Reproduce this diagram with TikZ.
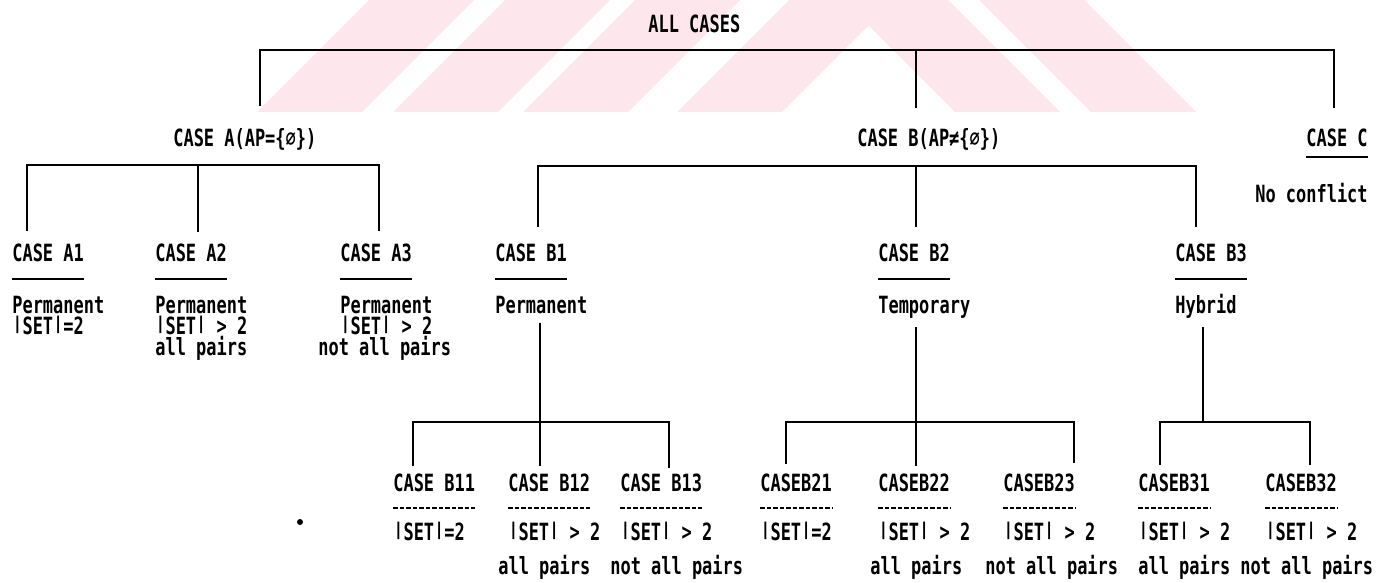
\documentclass[tikz,border=0pt]{standalone}
\usepackage{fontspec}
\newfontfamily\dotmono[FakeStretch=0.715]{DejaVu Sans Mono}
\usepackage{tikz}
\definecolor{wmpink}{RGB}{253,231,236}
% bar as tall as a capital
\newcommand\vbar{\raisebox{0.18em}{\scalebox{1}[0.74]{|}}}

\begin{document}
\begin{tikzpicture}[x=0.02cm, y=-0.02cm,
  every node/.style={inner sep=0pt, anchor=base west, font=\dotmono\bfseries\fontsize{13.5}{12}\selectfont},
  tree/.style={line width=1.6pt},
  rule/.style={line width=1.3pt},
  dashrule/.style={line width=1.3pt, dash pattern=on 2.6pt off 1.1pt}]
\useasboundingbox (0,0) rectangle (1389,582);

% faint watermark
\begin{scope}
\clip (0,0) rectangle (1389,112);
\foreach \b in {257,393,523,677}
  \fill[wmpink] (\b,112) -- (\b+105,112) -- (\b+217,0) -- (\b+112,0) -- cycle;
\foreach \t in {843,979}
  \fill[wmpink] (\t,0) -- (\t+105,0) -- (\t+217,112) -- (\t+112,112) -- cycle;
\end{scope}

% level 0 and 1
\node (all) at (648,32) {ALL CASES};
\node (caseA) at (173,146) {CASE A(AP=\{∅\})};
\node (caseB) at (857,146) {CASE B(AP≠\{∅\})};
\node[anchor=base east] (caseC) at (1368,146) {CASE C};
\node[anchor=base east] (noconf) at (1368,202) {No conflict};

% level 2
\node (a1) at (12,261) {CASE A1};
\node (a2) at (155,261) {CASE A2};
\node (a3) at (340,261) {CASE A3};
\node (b1) at (495,261) {CASE B1};
\node (b2) at (878,261) {CASE B2};
\node (b3) at (1175,261) {CASE B3};

\node (a1p) at (12,313) {Permanent};
\node (a1s) at (12,334) {\vbar SET\vbar=2};
\node (a2p) at (155,313) {Permanent};
\node (a2s) at (155,334) {\vbar SET\vbar{} > 2};
\node (a2x) at (155,355) {all pairs};
\node (a3p) at (340,313) {Permanent};
\node (a3s) at (340,334) {\vbar SET\vbar{} > 2};
\node (a3x) at (318,355) {not all pairs};
\node (b1p) at (495,313) {Permanent};
\node (b2p) at (878,313) {Temporary};
\node (b3p) at (1175,313) {Hybrid};

% level 3
\node (b11) at (393,491) {CASE B11};
\node (b12) at (508,491) {CASE B12};
\node (b13) at (620,491) {CASE B13};
\node (b21) at (760,491) {CASEB21};
\node (b22) at (878,491) {CASEB22};
\node (b23) at (1003,491) {CASEB23};
\node (b31) at (1138,491) {CASEB31};
\node (b32) at (1265,491) {CASEB32};

\node (b11s) at (393,540) {\vbar SET\vbar=2};
\node (b12s) at (508,540) {\vbar SET\vbar{} > 2};
\node (b12x) at (498,574) {all pairs};
\node (b13s) at (620,540) {\vbar SET\vbar{} > 2};
\node (b13x) at (610,574) {not all pairs};
\node (b21s) at (760,540) {\vbar SET\vbar=2};
\node (b22s) at (878,540) {\vbar SET\vbar{} > 2};
\node (b22x) at (870,574) {all pairs};
\node (b23s) at (1003,540) {\vbar SET\vbar{} > 2};
\node (b23x) at (985,574) {not all pairs};
\node (b31s) at (1138,540) {\vbar SET\vbar{} > 2};
\node (b31x) at (1138,574) {all pairs};
\node (b32s) at (1265,540) {\vbar SET\vbar{} > 2};
\node (b32x) at (1240,574) {not all pairs};

% fork points
\coordinate (r0) at (260,50);  \coordinate (r1) at (916,50);  \coordinate (r2) at (1334,50);
\coordinate (ra) at (260,106); \coordinate (rb) at (916,108); \coordinate (rc) at (1334,108);
\coordinate (fa0) at (27,165); \coordinate (fa1) at (198,165); \coordinate (fa2) at (379,165);
\coordinate (fb0) at (538,166); \coordinate (fb1) at (916,166); \coordinate (fb2) at (1196,166);
\coordinate (f10) at (413,422); \coordinate (f11) at (540,422); \coordinate (f12) at (669,422);
\coordinate (f20) at (786,422); \coordinate (f21) at (916,422); \coordinate (f22) at (1074,422);
\coordinate (f30) at (1160,422); \coordinate (f31) at (1203,422); \coordinate (f32) at (1310,422);

% connectors
\draw[tree] (ra) -- (r0) -- (r2) -- (rc);
\draw[tree] (r1) -- (rb);
\draw[tree] (fa0) ++(0,66) -- (fa0) -- (fa2) -- ++(0,66);
\draw[tree] (fa1) -- ++(0,67);
\draw[tree] (fb0) ++(0,61) -- (fb0) -- (fb2) -- ++(0,61);
\draw[tree] (fb1) -- ++(0,61);
\draw[tree] (f11 |- b1p.south) ++(0,9) -- (f11) -- ++(0,44);
\draw[tree] (f10) ++(0,44) -- (f10) -- (f12) -- ++(0,46);
\draw[tree] (f21 |- b2p.south) ++(0,9) -- (f21) -- ++(0,44);
\draw[tree] (f20) ++(0,42) -- (f20) -- (f22) -- ++(0,41);
\draw[tree] (f31 |- b3p.south) ++(0,9) -- (f31);
\draw[tree] (f30) ++(0,43) -- (f30) -- (f32) -- ++(0,43);

% underlines
\draw[rule] ([yshift=-0.2cm]caseC.south west) -- ([yshift=-0.2cm]caseC.south east);
\foreach \n in {a1,a2,a3,b1,b2,b3}
  \draw[rule] ([yshift=-0.34cm]\n.south west) -- ([yshift=-0.34cm]\n.south east);
\foreach \n in {b11,b12,b13,b21,b22,b23,b31,b32}
  \draw[dashrule] ([yshift=-0.32cm]\n.south west) -- ([yshift=-0.32cm]\n.south east);

% speck
\fill (300,522) circle (3);
\end{tikzpicture}
\end{document}
